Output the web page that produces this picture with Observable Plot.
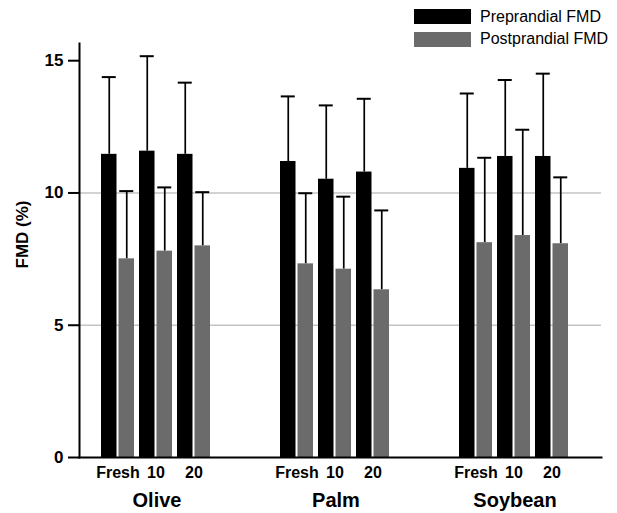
<!DOCTYPE html>
<html><head><meta charset="utf-8">
<script src="https://cdn.jsdelivr.net/npm/d3@7"></script>
<script src="https://cdn.jsdelivr.net/npm/@observablehq/plot@0.6"></script>
<style>
body{margin:0;background:#fff;font-family:"Liberation Sans",Arial,sans-serif;}
#wrap{position:relative;width:617px;height:513px;}
#legend{position:absolute;left:414px;top:9px;font-size:16px;color:#000;}
.item{display:flex;align-items:center;height:15px;margin-bottom:7.7px;}
.sw{width:57px;height:15px;margin-right:9px;flex:none;}
</style></head><body><div id="wrap"><div id="chart"></div><div id="legend"></div></div>
<script>
const oils = ["Olive", "Palm", "Soybean"];
const conditions = ["Fresh", "10", "20"];
const series = ["Preprandial FMD", "Postprandial FMD"];
const colors = ["#000000", "#6b6b6b"];
// order: Olive Fresh,10,20 | Palm Fresh,10,20 | Soybean Fresh,10,20
const preMean  = [11.46, 11.58, 11.46, 11.19, 10.52, 10.79, 10.93, 11.38, 11.38];
const preSD    = [2.92, 3.59, 2.71, 2.46, 2.79, 2.77, 2.83, 2.89, 3.13];
const postMean = [7.51, 7.80, 8.00, 7.32, 7.12, 6.34, 8.12, 8.39, 8.08];
const postSD   = [2.56, 2.41, 2.03, 2.67, 2.74, 3.00, 3.21, 4.00, 2.51];
const yTicks = [0, 5, 10, 15];
const gridValues = [5, 10];
const yLabel = "FMD (%)";

const pre = [], post = [];
oils.forEach((oil, i) => conditions.forEach((c, j) => {
  const k = i * conditions.length + j;
  pre.push({oil, condition: c, mean: preMean[k], sd: preSD[k]});
  post.push({oil, condition: c, mean: postMean[k], sd: postSD[k]});
}));
const grid = oils.flatMap(oil => gridValues.map(v => ({oil, v})));
const lastOil = oils[oils.length - 1];

const chart = Plot.plot({
  width: 617, height: 513,
  marginTop: 43, marginBottom: 56, marginLeft: 79, marginRight: 16,
  style: {fontFamily: "'Liberation Sans', Arial, sans-serif", background: "transparent", color: "#000"},
  y: {domain: [0, 15.65]},
  fx: {domain: oils, paddingInner: 0.0838, paddingOuter: 0, align: 0},
  x: {domain: conditions, paddingInner: 0.128, paddingOuter: 0.667, align: 0.404},
  marks: [
    Plot.ruleY(grid.filter(d => d.oil !== lastOil), {fx: "oil", y: "v", insetRight: -15.1, stroke: "#c4c4c4", strokeWidth: 1.5}),
    Plot.ruleY(grid.filter(d => d.oil === lastOil), {fx: "oil", y: "v", stroke: "#c4c4c4", strokeWidth: 1.5}),
    Plot.ruleX(pre, {fx: "oil", x: "condition", y1: "mean", y2: d => d.mean + d.sd, dx: -8.75, stroke: "#000", strokeWidth: 1.7}),
    Plot.ruleX(post, {fx: "oil", x: "condition", y1: "mean", y2: d => d.mean + d.sd, dx: 8.75, stroke: "#000", strokeWidth: 1.7}),
    Plot.tickY(pre, {fx: "oil", x: "condition", y: d => d.mean + d.sd, insetLeft: 0.75, insetRight: 18.25, stroke: "#000", strokeWidth: 2}),
    Plot.tickY(post, {fx: "oil", x: "condition", y: d => d.mean + d.sd, insetLeft: 18.25, insetRight: 0.75, stroke: "#000", strokeWidth: 2}),
    Plot.barY(pre, {fx: "oil", x: "condition", y: "mean", fill: colors[0], insetRight: 17.5}),
    Plot.barY(post, {fx: "oil", x: "condition", y: "mean", fill: colors[1], insetLeft: 17.5}),
    Plot.frame({anchor: "bottom", stroke: "#000", strokeWidth: 2, facet: "super"}),
    Plot.frame({anchor: "left", stroke: "#000", strokeWidth: 2, facet: "super"}),
    Plot.axisY({ticks: yTicks, tickSize: 11, tickPadding: 5, fontSize: 17, fontWeight: "bold", strokeWidth: 2, label: null}),
    Plot.text([yLabel], {text: d => d, frameAnchor: "left", rotate: -90, dx: -57, dy: 18, fontSize: 17, fontWeight: "bold", facet: "super"}),
    Plot.axisX({tickSize: 0, tickPadding: 9, fontSize: 16, fontWeight: "bold", label: null}),
    Plot.axisFx({anchor: "bottom", tickSize: 0, tickPadding: 35, dx: -4.5, fontSize: 20, fontWeight: "bold", label: null})
  ]
});
document.getElementById("chart").appendChild(chart);

const legend = document.getElementById("legend");
series.forEach((s, i) => {
  const item = document.createElement("div");
  item.className = "item";
  item.innerHTML = `<span class="sw" style="background:${colors[i]}"></span><span>${s}</span>`;
  legend.appendChild(item);
});
</script>
</body></html>
